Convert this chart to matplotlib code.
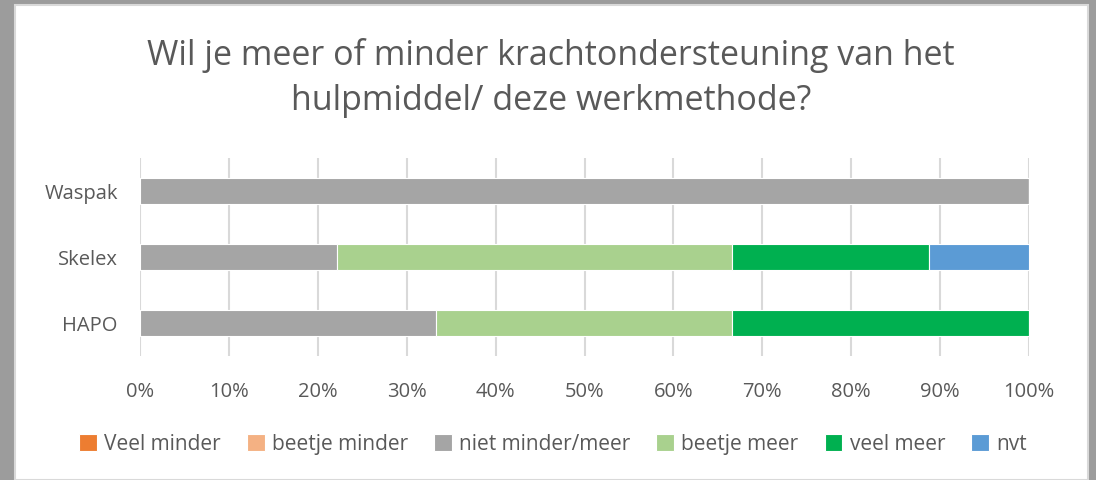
import matplotlib
matplotlib.use("Agg")
import matplotlib.pyplot as plt
from matplotlib.patches import Rectangle
import numpy as np

categories = ["HAPO", "Skelex", "Waspak"]
series_names = ["Veel minder", "beetje minder", "niet minder/meer", "beetje meer", "veel meer", "nvt"]
series_values = {
    "Veel minder":      [0.0, 0.0, 0.0],
    "beetje minder":    [0.0, 0.0, 0.0],
    "niet minder/meer": [33.3, 22.2, 100.0],
    "beetje meer":      [33.3, 44.4, 0.0],
    "veel meer":        [33.4, 22.2, 0.0],
    "nvt":              [0.0, 11.2, 0.0],
}
colors = ["#ED7D31", "#F4B183", "#A5A5A5", "#A9D18E", "#00B050", "#5B9BD5"]
xticks = [0, 10, 20, 30, 40, 50, 60, 70, 80, 90, 100]
title = "Wil je meer of minder krachtondersteuning van het\nhulpmiddel/ deze werkmethode?"

plt.rcParams['font.family'] = ['Open Sans', 'DejaVu Sans']

W, H = 1096, 481
fig = plt.figure(figsize=(W / 100, H / 100), dpi=100)
fig.patch.set_facecolor("#9c9c9c")
# white chart panel
panel = Rectangle((15 / W, 0), (1088 - 15) / W, (H - 6) / H,
                  transform=fig.transFigure, facecolor="white",
                  edgecolor="#d9d9d9", linewidth=1.5, zorder=-5)
fig.patches.append(panel)

ax = fig.add_axes([140 / W, 1 - 357 / H, (1029 - 140) / W, (357 - 159) / H])
ax.set_facecolor("none")
ax.set_zorder(2)

y = np.arange(len(categories))
left = np.zeros(len(categories))
handles = []
for name, c in zip(series_names, colors):
    vals = np.array(series_values[name])
    b = ax.barh(y, vals, left=left, height=0.4, color=c, edgecolor="white",
                linewidth=0.8, label=name, zorder=3)
    handles.append(b)
    left += vals

ax.set_xlim(0, 100)
ax.set_ylim(-0.5, 2.5)
ax.set_xticks(xticks)
ax.set_xticklabels([f"{t}%" for t in xticks], fontsize=14.5, color="#595959")
ax.set_yticks(y)
ax.set_yticklabels(categories, fontsize=14.5, color="#595959")
ax.tick_params(axis="both", length=0)
ax.tick_params(axis="y", pad=16)
ax.tick_params(axis="x", pad=18)
ax.grid(axis="x", color="#d9d9d9", linewidth=1.5, zorder=0)
for s in ax.spines.values():
    s.set_visible(False)

fig.text(551 / W, 1 - 78 / H, title, ha="center", va="center", fontsize=24.5,
         color="#595959", linespacing=1.45)

fig.legend(handles=handles, labels=series_names, loc="center",
           bbox_to_anchor=(553 / W, 1 - 445 / H), ncol=6, frameon=False,
           fontsize=15, handlelength=0.85, handleheight=0.85, handletextpad=0.35,
           columnspacing=1.25, labelcolor="#595959")

fig.savefig("out.png", dpi=100, facecolor=fig.get_facecolor())
